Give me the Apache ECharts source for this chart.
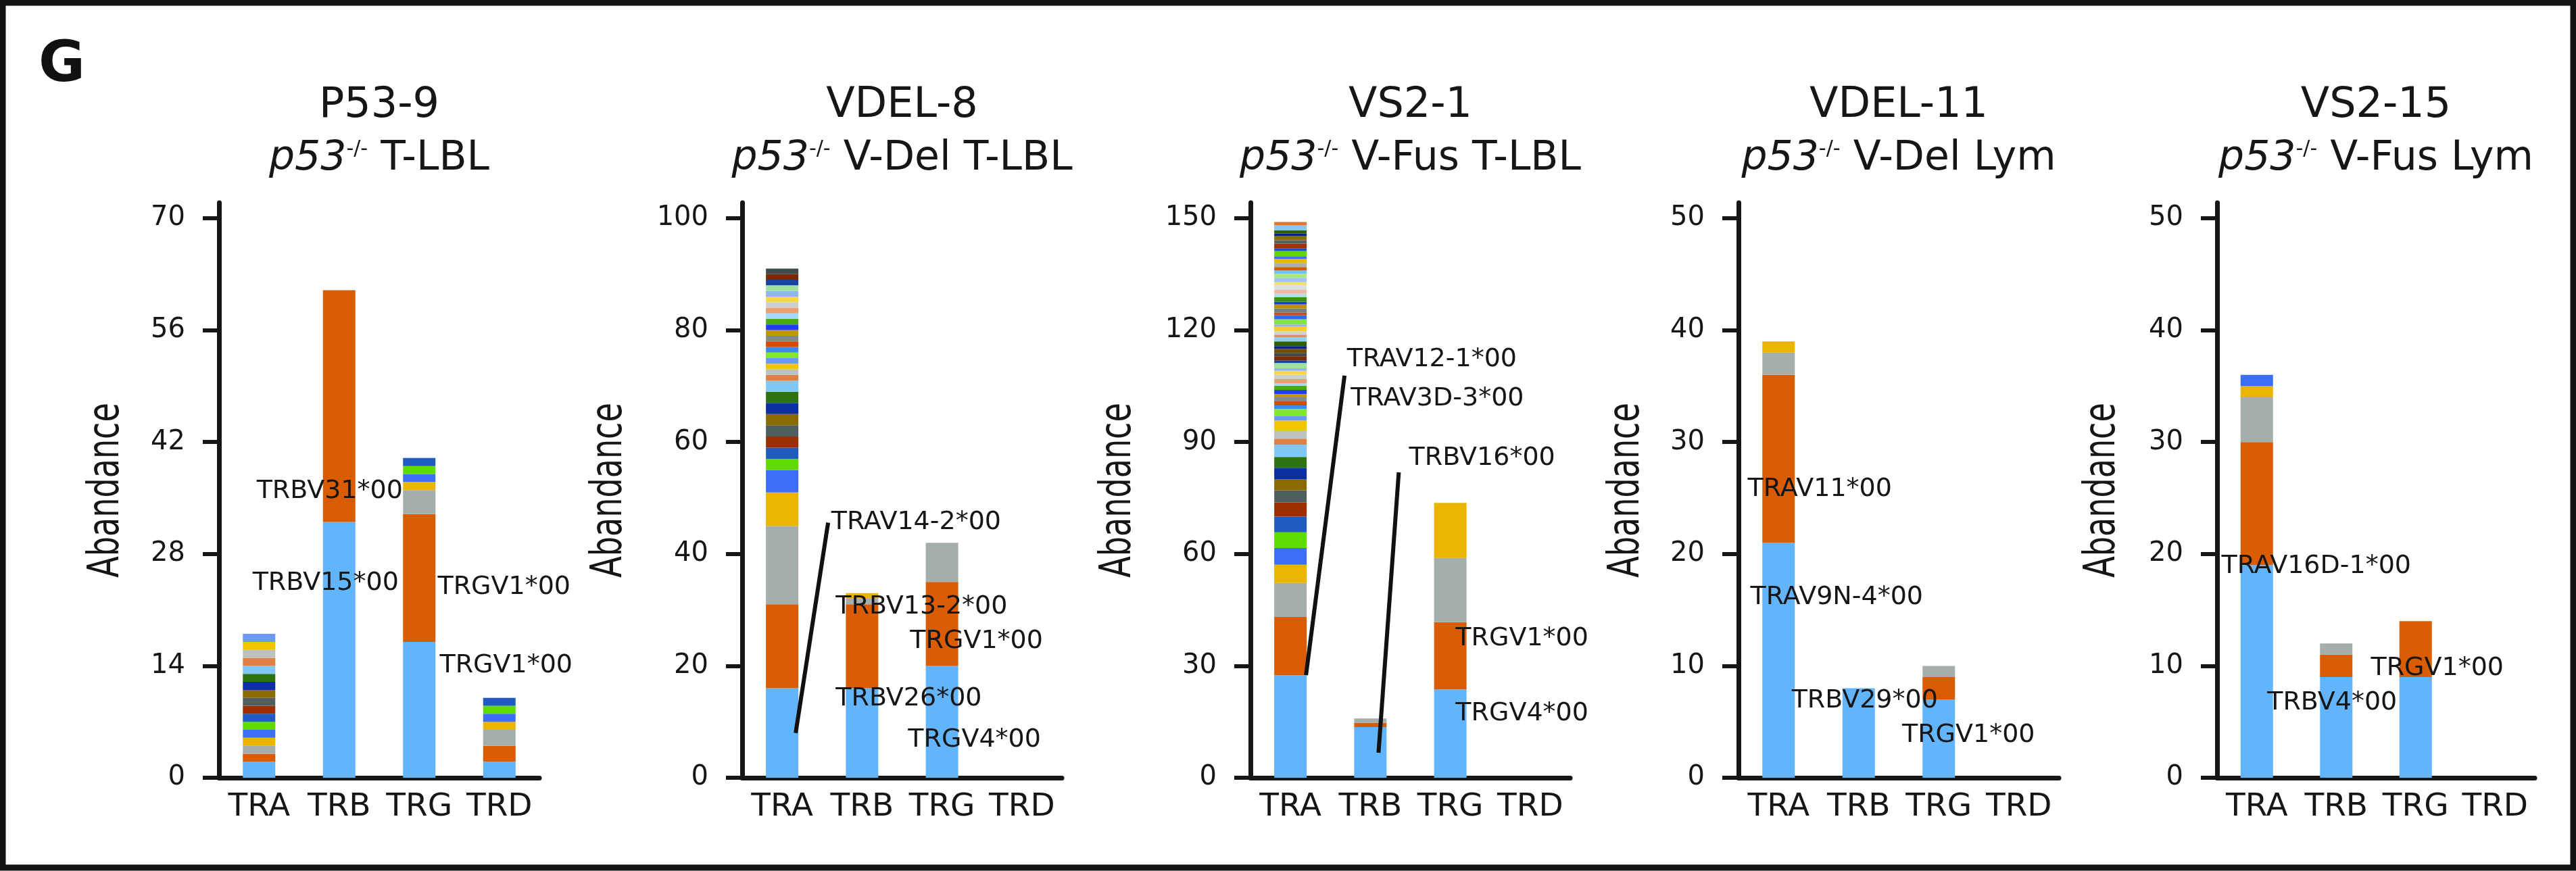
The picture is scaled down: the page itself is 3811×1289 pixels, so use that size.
<!DOCTYPE html>
<html><head><meta charset="utf-8">
<script src="https://cdn.jsdelivr.net/npm/echarts@6/dist/echarts.min.js"></script>
<style>html,body{margin:0;padding:0;background:#fff}#c{width:3811px;height:1289px}</style>
</head><body><div id="c"></div>
<script>
// ---------------- DATA ----------------
const categories = ['TRA', 'TRB', 'TRG', 'TRD'];
const panelNames = ['P53-9', 'VDEL-8', 'VS2-1', 'VDEL-11', 'VS2-15'];
const panelSubtitles = ['T-LBL', 'V-Del T-LBL', 'V-Fus T-LBL', 'V-Del Lym', 'V-Fus Lym'];
const yAxisTitle = 'Abandance';

const yTicks1 = [0, 14, 28, 42, 56, 70];
const yTicks2 = [0, 20, 40, 60, 80, 100];
const yTicks3 = [0, 30, 60, 90, 120, 150];
const yTicks4 = [0, 10, 20, 30, 40, 50];
const yTicks5 = [0, 10, 20, 30, 40, 50];

// stacked segment values, bottom to top (segment k uses clone colour k)
const p1TRA = [2, 1, 1, 1, 1, 1, 1, 1, 1, 1, 1, 1, 1, 1, 1, 1, 1];
const p1TRB = [32, 29];
const p1TRG = [17, 16, 3, 1, 1, 1, 1];
const p1TRD = [2, 2, 2, 1, 1, 1, 1];

const p2TRA = [16, 15, 14, 6, 4, 2, 2, 2, 2, 2, 2, 2, 2, 1, 1, 1, 1, 1, 1, 1, 1, 1, 1, 1, 1, 1, 1, 1, 1, 1, 1, 1, 1];
const p2TRB = [16, 15, 1, 1];
const p2TRG = [20, 15, 7];
const p2TRD = [];

const p3TRA = [27.5, 15.6, 9.1, 4.9, 4.5, 4.2, 4.2, 3.8, 3.3, 2.9, 3.1, 2.9, 3.3, 1.6, 2.2, 2.7, 1.1, 2.0, 0.9, 1.1,
  1.1, 0.9, 1.1, 1.1, 0.7, 1.1, 1.1, 1.1, 0.7, 1.4, 0.7, 1.1, 0.9, 1.1, 0.7, 1.3, 1.1, 0.7, 0.9, 1.3,
  0.5, 1.4, 1.1, 0.7, 1.1, 1.1, 0.7, 1.3, 0.9, 1.1, 1.1, 0.9, 1.1, 1.1, 0.9, 0.9, 1.1, 1.1, 0.7, 1.4,
  0.7, 1.3, 0.9, 1.1, 0.7, 0.9, 1.3, 0.9];
const p3TRB = [13.6, 1.1, 1.2];
const p3TRG = [23.7, 18, 17.2, 14.8];
const p3TRD = [];

const p4TRA = [21, 15, 2, 1];
const p4TRB = [8];
const p4TRG = [7, 2, 1];
const p4TRD = [];

const p5TRA = [19, 11, 4, 1, 1];
const p5TRB = [9, 2, 1];
const p5TRG = [9, 5];
const p5TRD = [];

// annotation texts: [category, value, text]
const labels1 = [['TRB', 35.8, 'TRBV31*00'], ['TRB', 24.3, 'TRBV15*00'], ['TRD', 23.8, 'TRGV1*00'], ['TRD', 14.0, 'TRGV1*00']];
const labels2 = [['TRB', 45.6, 'TRAV14-2*00'], ['TRB', 30.6, 'TRBV13-2*00'], ['TRG', 24.4, 'TRGV1*00'], ['TRB', 14.1, 'TRBV26*00'], ['TRG', 6.8, 'TRGV4*00']];
const labels3 = [['TRB', 112.1, 'TRAV12-1*00'], ['TRB', 101.6, 'TRAV3D-3*00'], ['TRG', 85.7, 'TRBV16*00'], ['TRG', 37.3, 'TRGV1*00'], ['TRG', 17.2, 'TRGV4*00']];
const labels4 = [['TRA', 25.8, 'TRAV11*00'], ['TRA', 16.1, 'TRAV9N-4*00'], ['TRB', 6.9, 'TRBV29*00'], ['TRG', 3.8, 'TRGV1*00']];
const labels5 = [['TRA', 18.9, 'TRAV16D-1*00'], ['TRB', 6.7, 'TRBV4*00'], ['TRG', 9.8, 'TRGV1*00']];

// leader lines: [[category, value], [category, value]]
const leaders2 = [[['TRA', 8.0], ['TRA', 45.6]]];
const leaders3 = [[['TRA', 27.5], ['TRA', 107.8]], [['TRB', 6.7], ['TRB', 81.9]]];

// ---------------- STYLE / LAYOUT ----------------
const palette = ['#63B5FB', '#D95B02', '#A4AEAD', '#EAB500', '#3D6EF8', '#5FDB00', '#1F5BC0', '#9C2E00', '#4F5F60', '#8B6A00',
  '#0B2FA0', '#2E7310', '#80C8F8', '#E08045', '#BCC2C0', '#F0C400', '#6A9AF5', '#80E830', '#3A8AF0', '#D84A00',
  '#7F8C8C', '#C09800', '#2040F0', '#4AAA10', '#A8D8F8', '#E8A070', '#CCD0D0', '#F5D84A', '#90B4F8', '#A0E0A0',
  '#1545A0', '#7A2800', '#3F4A4A', '#705000', '#0A2090', '#2E6000', '#90D0F8', '#E09060', '#D0D4D4', '#F5D020',
  '#90B0F8', '#80E840', '#2F6BF0', '#D84800', '#708080', '#C09000', '#1A38E8', '#3A9010', '#B0E0F0', '#F0B8A0',
  '#D8E0E0', '#F8E070', '#A0C0F8', '#A8E880', '#70C0F8', '#D85800', '#A8B0B0', '#E8B800', '#3D6EF8', '#60D800',
  '#1E50C0', '#A03000', '#506068', '#8B6A00', '#0A2090', '#2E6000', '#88C8F0', '#E07830'];

const labelNudges = [[-14, -20, 7, 10], [80, 88, 51, 69, 48], [91, 99, 47, 106, 106], [61, 86, 9, 44], [88, -6, 32]];
const leaderNudges = [[], [[20, 68]], [[23, 80], [12, 42]], [], []];

const ink = '#161616';
const FONT = "'DejaVu Sans', sans-serif";
const gridLefts = [324, 1098, 1850, 2572, 3280];
const gridWidths = [474, 473, 473, 474, 470];
const gridTop = 300, gridHeight = 851, plotHeight = 828;
const axisTitleOffsets = [166, 196, 195, 165, 169];

const panels = [
  { bars: [p1TRA, p1TRB, p1TRG, p1TRD], ticks: yTicks1, labels: labels1, leaders: [] },
  { bars: [p2TRA, p2TRB, p2TRG, p2TRD], ticks: yTicks2, labels: labels2, leaders: leaders2 },
  { bars: [p3TRA, p3TRB, p3TRG, p3TRD], ticks: yTicks3, labels: labels3, leaders: leaders3 },
  { bars: [p4TRA, p4TRB, p4TRG, p4TRD], ticks: yTicks4, labels: labels4, leaders: [] },
  { bars: [p5TRA, p5TRB, p5TRG, p5TRD], ticks: yTicks5, labels: labels5, leaders: [] }
];

const grids = [], xAxes = [], yAxes = [], series = [], titles = [];
panels.forEach((p, i) => {
  const top = p.ticks[p.ticks.length - 1];
  grids.push({ left: gridLefts[i], top: gridTop, width: gridWidths[i], height: gridHeight, containLabel: false });
  xAxes.push({
    type: 'category', gridIndex: i, data: categories,
    axisLine: { show: true, lineStyle: { color: ink, width: 7 } },
    axisTick: { show: false },
    axisLabel: { interval: 0, fontSize: 47, fontFamily: FONT, color: ink, margin: 20 }
  });
  yAxes.push({
    type: 'value', gridIndex: i, min: 0, max: top * gridHeight / plotHeight,
    splitLine: { show: false },
    axisLine: { show: true, lineStyle: { color: ink, width: 7 } },
    axisTick: { show: true, length: 24, lineStyle: { color: ink, width: 6 }, customValues: p.ticks },
    axisLabel: { fontSize: 40, fontFamily: FONT, color: ink, margin: 50, customValues: p.ticks }
  });
  const nSeg = Math.max(...p.bars.map(b => b.length));
  for (let k = 0; k < nSeg; k++) {
    series.push({
      type: 'bar', name: 'clone ' + (k + 1), xAxisIndex: i, yAxisIndex: i, stack: 'panel' + i,
      barWidth: 48, itemStyle: { color: palette[k % palette.length] },
      data: p.bars.map(b => (k < b.length ? b[k] : '-'))
    });
  }
  titles.push({
    text: '{a|' + panelNames[i] + '}\n{i|p53}{s|-/-}{n| ' + panelSubtitles[i] + '}',
    left: gridLefts[i] + gridWidths[i] / 2, top: 118, textAlign: 'center', padding: 0,
    textStyle: {
      fontFamily: FONT, color: ink, fontWeight: 'normal',
      rich: {
        a: { fontSize: 62, lineHeight: 78, fontFamily: FONT, color: ink, fontWeight: 'normal' },
        i: { fontSize: 60, lineHeight: 78, fontStyle: 'italic', fontFamily: FONT, color: ink, fontWeight: 'normal' },
        s: { fontSize: 30, lineHeight: 30, verticalAlign: 'top', fontFamily: FONT, color: ink, fontWeight: 'normal', padding: [10, 0, 0, 0] },
        n: { fontSize: 60, lineHeight: 78, fontFamily: FONT, color: ink, fontWeight: 'normal' }
      }
    }
  });
});

const chart = echarts.init(document.getElementById('c'), null, { renderer: 'canvas' });
chart.setOption({
  backgroundColor: '#fff', animation: false,
  title: titles, grid: grids, xAxis: xAxes, yAxis: yAxes, series: series
});

// annotations placed through the axes' own scales
const graphics = [
  { type: 'rect', shape: { x: 4, y: 4, width: 3803, height: 1280 }, style: { fill: 'none', stroke: '#111', lineWidth: 9 }, z: 100 },
  { type: 'text', x: 57, y: 56, style: { text: 'G', font: "bold 84px 'DejaVu Sans', sans-serif", fill: '#111', textVerticalAlign: 'top' }, z: 100 }
];
panels.forEach((p, i) => {
  // condensed vertical axis title centred on the axis line
  graphics.push({
    type: 'text', x: gridLefts[i] - axisTitleOffsets[i], y: gridTop + gridHeight / 2,
    rotation: Math.PI / 2, scaleX: 0.72, z: 100,
    style: { text: yAxisTitle, font: "64px 'DejaVu Sans', sans-serif", fill: ink, textAlign: 'center', textVerticalAlign: 'middle' }
  });
  p.labels.forEach((l, j) => {
    const pt = chart.convertToPixel({ gridIndex: i }, [l[0], l[1]]);
    graphics.push({
      type: 'text', x: pt[0] + labelNudges[i][j], y: pt[1], z: 100,
      style: { text: l[2], font: "38px 'DejaVu Sans', sans-serif", fill: ink, textAlign: 'center', textVerticalAlign: 'middle' }
    });
  });
  p.leaders.forEach((ln, j) => {
    const a = chart.convertToPixel({ gridIndex: i }, ln[0]);
    const b = chart.convertToPixel({ gridIndex: i }, ln[1]);
    graphics.push({
      type: 'line', z: 99,
      shape: { x1: a[0] + leaderNudges[i][j][0], y1: a[1], x2: b[0] + leaderNudges[i][j][1], y2: b[1] },
      style: { stroke: '#111', lineWidth: 6 }
    });
  });
});
chart.setOption({ graphic: graphics });
</script></body></html>
